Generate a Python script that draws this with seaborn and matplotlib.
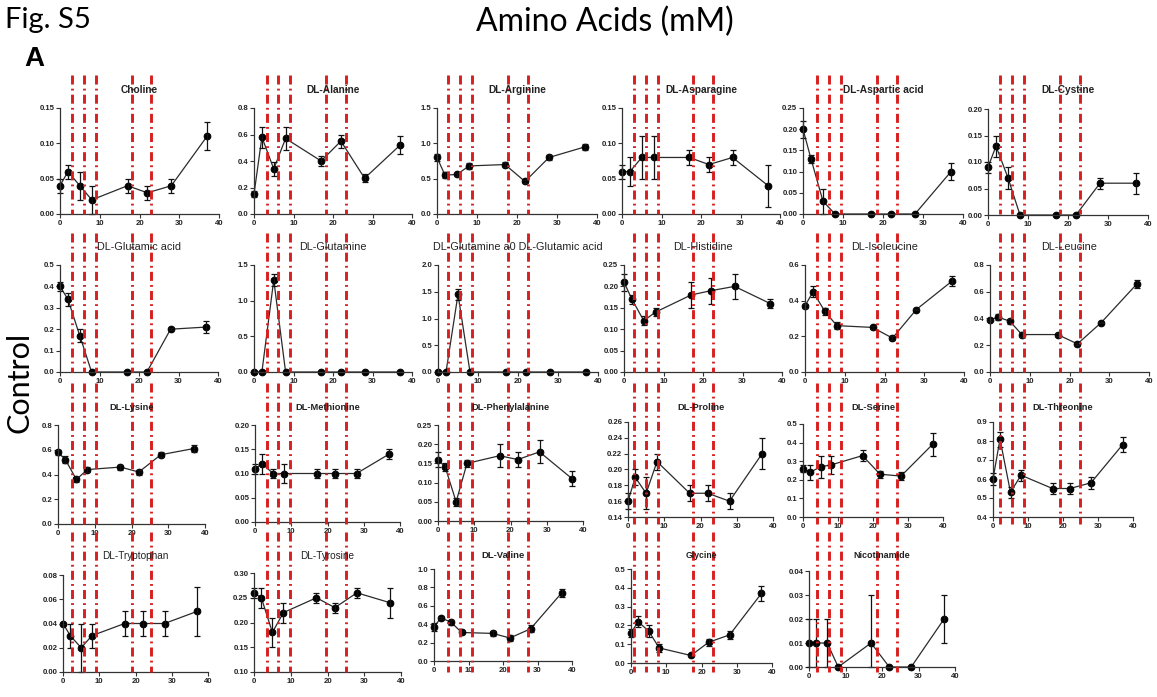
import matplotlib
matplotlib.use("Agg")
import matplotlib.pyplot as plt
import seaborn as sns
import pandas as pd
from matplotlib.ticker import FormatStrFormatter, MultipleLocator
from matplotlib.transforms import blended_transform_factory

# ---------------- data ----------------
time_h = [0, 2, 5, 8, 17, 22, 28, 37]

choline_mean = [0.04, 0.06, 0.04, 0.02, 0.04, 0.03, 0.04, 0.11]
choline_err = [0.01, 0.01, 0.02, 0.02, 0.01, 0.01, 0.01, 0.02]
alanine_mean = [0.15, 0.58, 0.34, 0.57, 0.40, 0.55, 0.27, 0.52]
alanine_err = [0.02, 0.08, 0.05, 0.09, 0.04, 0.05, 0.03, 0.07]
arginine_mean = [0.80, 0.55, 0.56, 0.68, 0.70, 0.46, 0.80, 0.95]
arginine_err = [0.05, 0.04, 0.02, 0.04, 0.03, 0.02, 0.03, 0.04]
asparagine_mean = [0.06, 0.06, 0.08, 0.08, 0.08, 0.07, 0.08, 0.04]
asparagine_err = [0.01, 0.02, 0.03, 0.03, 0.01, 0.01, 0.01, 0.03]
aspartic_mean = [0.20, 0.13, 0.03, 0.0, 0.0, 0.0, 0.0, 0.10]
aspartic_err = [0.02, 0.01, 0.03, 0.0, 0.0, 0.0, 0.0, 0.02]
cystine_mean = [0.09, 0.13, 0.07, 0.0, 0.0, 0.0, 0.06, 0.06]
cystine_err = [0.01, 0.02, 0.02, 0.0, 0.0, 0.0, 0.01, 0.02]

glutamic_mean = [0.40, 0.34, 0.17, 0.0, 0.0, 0.0, 0.20, 0.21]
glutamic_err = [0.02, 0.03, 0.03, 0.0, 0.0, 0.0, 0.005, 0.03]
glutamine_mean = [0.0, 0.0, 1.29, 0.0, 0.0, 0.0, 0.0, 0.0]
glutamine_err = [0.0, 0.0, 0.09, 0.0, 0.0, 0.0, 0.0, 0.0]
glngla_mean = [0.0, 0.0, 1.45, 0.0, 0.0, 0.0, 0.0, 0.0]
glngla_err = [0.0, 0.0, 0.10, 0.0, 0.0, 0.0, 0.0, 0.0]
histidine_mean = [0.21, 0.17, 0.12, 0.14, 0.18, 0.19, 0.20, 0.16]
histidine_err = [0.02, 0.01, 0.01, 0.01, 0.03, 0.03, 0.03, 0.01]
isoleucine_mean = [0.37, 0.45, 0.34, 0.26, 0.25, 0.19, 0.35, 0.51]
isoleucine_err = [0.01, 0.03, 0.02, 0.02, 0.01, 0.01, 0.005, 0.03]
leucine_mean = [0.39, 0.41, 0.38, 0.28, 0.28, 0.21, 0.37, 0.66]
leucine_err = [0.01, 0.02, 0.02, 0.02, 0.01, 0.01, 0.005, 0.03]

lysine_mean = [0.58, 0.52, 0.36, 0.44, 0.46, 0.42, 0.56, 0.61]
lysine_err = [0.02, 0.03, 0.02, 0.02, 0.02, 0.02, 0.02, 0.03]
methionine_mean = [0.11, 0.12, 0.10, 0.10, 0.10, 0.10, 0.10, 0.14]
methionine_err = [0.01, 0.02, 0.01, 0.02, 0.01, 0.01, 0.01, 0.01]
phenylalanine_mean = [0.16, 0.14, 0.05, 0.15, 0.17, 0.16, 0.18, 0.11]
phenylalanine_err = [0.02, 0.01, 0.01, 0.01, 0.03, 0.02, 0.03, 0.02]
proline_mean = [0.16, 0.19, 0.17, 0.21, 0.17, 0.17, 0.16, 0.22]
proline_err = [0.01, 0.01, 0.02, 0.01, 0.01, 0.01, 0.01, 0.02]
serine_mean = [0.26, 0.24, 0.27, 0.28, 0.33, 0.23, 0.22, 0.39]
serine_err = [0.02, 0.04, 0.06, 0.05, 0.03, 0.02, 0.02, 0.06]
threonine_mean = [0.60, 0.81, 0.53, 0.62, 0.55, 0.55, 0.58, 0.78]
threonine_err = [0.03, 0.04, 0.03, 0.03, 0.03, 0.03, 0.03, 0.04]

tryptophan_mean = [0.04, 0.03, 0.02, 0.03, 0.04, 0.04, 0.04, 0.05]
tryptophan_err = [0.0, 0.01, 0.02, 0.01, 0.01, 0.01, 0.01, 0.02]
tyrosine_mean = [0.26, 0.25, 0.18, 0.22, 0.25, 0.23, 0.26, 0.24]
tyrosine_err = [0.01, 0.02, 0.03, 0.02, 0.01, 0.01, 0.01, 0.03]
valine_mean = [0.37, 0.47, 0.42, 0.31, 0.30, 0.25, 0.35, 0.74]
valine_err = [0.04, 0.01, 0.03, 0.02, 0.03, 0.03, 0.04, 0.04]
glycine_mean = [0.16, 0.22, 0.17, 0.08, 0.04, 0.11, 0.15, 0.37]
glycine_err = [0.02, 0.03, 0.03, 0.02, 0.005, 0.02, 0.02, 0.04]
nicotinamide_mean = [0.01, 0.01, 0.01, 0.0, 0.01, 0.0, 0.0, 0.02]
nicotinamide_err = [0.01, 0.01, 0.01, 0.0, 0.02, 0.0, 0.0, 0.01]

event_x = [3, 6, 9, 18, 23]

# ---------------- style ----------------
sns.set_style("ticks")
plt.rcParams["font.family"] = ["Liberation Sans", "DejaVu Sans"]
plt.rcParams["lines.scale_dashes"] = False

W, H = 1157, 697
fig = plt.figure(figsize=(W / 100, H / 100), dpi=100)


def box(l, t, r, b):
    return [l / W, 1 - b / H, (r - l) / W, (b - t) / H]


# (title, mean, err, ymin, ymax, step, decimals, (l,t,r,b), row, col, title_size, title_weight)
panels = [
    ("Choline", choline_mean, choline_err, 0, 0.15, 0.05, 2, (60, 108, 219, 214), 0, 0, 7.3, "bold"),
    ("DL-Alanine", alanine_mean, alanine_err, 0, 0.8, 0.2, 1, (254, 108, 412, 214), 0, 1, 7.3, "bold"),
    ("DL-Arginine", arginine_mean, arginine_err, 0, 1.5, 0.5, 1, (437, 108, 597, 214), 0, 2, 7.3, "bold"),
    ("DL-Asparagine", asparagine_mean, asparagine_err, 0, 0.15, 0.05, 2, (622, 108, 780, 214), 0, 3, 7.3, "bold"),
    ("DL-Aspartic acid", aspartic_mean, aspartic_err, 0, 0.25, 0.05, 2, (803, 108, 963, 214), 0, 4, 7.3, "bold"),
    ("DL-Cystine", cystine_mean, cystine_err, 0, 0.20, 0.05, 2, (988, 109, 1148, 215), 0, 5, 7.3, "bold"),

    ("DL-Glutamic acid", glutamic_mean, glutamic_err, 0, 0.5, 0.1, 1, (60, 265, 218, 372), 1, 0, 7.8, "normal"),
    ("DL-Glutamine", glutamine_mean, glutamine_err, 0, 1.5, 0.5, 1, (254, 265, 412, 372), 1, 1, 7.8, "normal"),
    ("DL-Glutamine a0 DL-Glutamic acid", glngla_mean, glngla_err, 0, 2.0, 0.5, 1, (438, 265, 598, 372), 1, 2, 7.8, "normal"),
    ("DL-Histidine", histidine_mean, histidine_err, 0, 0.25, 0.05, 2, (624, 265, 782, 372), 1, 3, 7.8, "normal"),
    ("DL-Isoleucine", isoleucine_mean, isoleucine_err, 0, 0.6, 0.2, 1, (805, 265, 964, 372), 1, 4, 7.8, "normal"),
    ("DL-Leucine", leucine_mean, leucine_err, 0, 0.8, 0.2, 1, (990, 265, 1149, 372), 1, 5, 7.8, "normal"),

    ("DL-Lysine", lysine_mean, lysine_err, 0, 0.8, 0.2, 1, (58, 425, 205, 524), 2, 0, 6.7, "bold"),
    ("DL-Methionine", methionine_mean, methionine_err, 0, 0.20, 0.05, 2, (255, 425, 400, 522), 2, 1, 6.7, "bold"),
    ("DL-Phenylalanine", phenylalanine_mean, phenylalanine_err, 0, 0.25, 0.05, 2, (438, 425, 583, 521), 2, 2, 6.7, "bold"),
    ("DL-Proline", proline_mean, proline_err, 0.14, 0.26, 0.02, 2, (628, 422, 773, 517), 2, 3, 6.7, "bold"),
    ("DL-Serine", serine_mean, serine_err, 0, 0.5, 0.1, 1, (803, 424, 943, 517), 2, 4, 6.7, "bold"),
    ("DL-Threonine", threonine_mean, threonine_err, 0.4, 0.9, 0.1, 1, (993, 422, 1133, 517), 2, 5, 6.7, "bold"),

    ("DL-Tryptophan", tryptophan_mean, tryptophan_err, 0, 0.08, 0.02, 2, (63, 575, 208, 672), 3, 0, 7.2, "normal"),
    ("DL-Tyrosine", tyrosine_mean, tyrosine_err, 0.10, 0.30, 0.05, 2, (254, 573, 401, 672), 3, 1, 7.2, "normal"),
    ("DL-Valine", valine_mean, valine_err, 0, 1.0, 0.2, 1, (434, 569, 572, 661), 3, 2, 6.8, "bold"),
    ("Glycine", glycine_mean, glycine_err, 0, 0.5, 0.1, 1, (631, 569, 772, 663), 3, 3, 6.2, "bold"),
    ("Nicotinamide", nicotinamide_mean, nicotinamide_err, 0, 0.04, 0.01, 2, (809, 571, 955, 667), 3, 4, 6.5, "bold"),
]

row_title_y = [90, 247, 408, 556]
row_red_span = [(75, 214), (233, 372), (383, 524), (532, 672)]
col_shift = [0.0, 0.2, -0.25, 0.0, 0.4, -0.1]
red_color = "#d81f1f"

axes = {}
for p in panels:
    title, mean, err, y0, y1, step, dec, bx, row, col, tsize, tweight = p
    ax = fig.add_axes(box(*bx))
    axes[(row, col)] = ax
    df = pd.DataFrame({"time": time_h, "value": mean})
    sns.lineplot(data=df, x="time", y="value", ax=ax, color="#2b2b2b", linewidth=0.9,
                 marker="o", markersize=4.8, markerfacecolor="black",
                 markeredgecolor="black", errorbar=None)
    # error bars never reach below the axis floor
    lower = [min(e, m - y0) for m, e in zip(mean, err)]
    ax.errorbar(time_h, mean, yerr=[lower, err], fmt="none", ecolor="#111111",
                elinewidth=0.9, capsize=2.2, capthick=0.9)
    for art in ax.get_children():
        try:
            art.set_clip_on(False)
        except Exception:
            pass
    ax.set_xlim(0, 40)
    ax.set_ylim(y0, y1)
    ax.xaxis.set_major_locator(MultipleLocator(10))
    ax.yaxis.set_major_locator(MultipleLocator(step))
    ax.yaxis.set_major_formatter(FormatStrFormatter("%%.%df" % dec))
    ax.set_xlabel("")
    ax.set_ylabel("")
    for s in ["top", "right"]:
        ax.spines[s].set_visible(False)
    for s in ["left", "bottom"]:
        ax.spines[s].set_color("#333333")
        ax.spines[s].set_linewidth(0.9)
    ax.tick_params(axis="both", direction="out", length=2.6, width=0.8,
                   color="#333333", labelsize=5.6, pad=1.5, labelcolor="#222222")
    for lab in ax.get_xticklabels() + ax.get_yticklabels():
        lab.set_fontweight("bold")
    ax.patch.set_visible(False)
    cx = (bx[0] + bx[2]) / 2 / W
    fig.text(cx, 1 - row_title_y[row] / H, title, ha="center", va="center",
             fontsize=tsize, fontweight=tweight, color="#222222")

# red dash-dot event lines, aligned per column with the first-row panel
for p in panels:
    row, col = p[8], p[9]
    ax = axes[(row, col)]
    ref = axes[(0, col)]
    trans = blended_transform_factory(ref.transData, fig.transFigure)
    ytop, ybot = row_red_span[row]
    for xv in event_x:
        xs = xv + col_shift[col]
        ax.plot([xs, xs], [1 - ytop / H, 1 - ybot / H], transform=trans,
                color=red_color, linewidth=2.1, linestyle=(0, (6.5, 3.0, 1.3, 3.0)),
                clip_on=False, zorder=5, solid_capstyle="butt", dash_capstyle="butt")

# headers
fig.text(5 / W, 1 - 20 / H, "Fig. S5", ha="left", va="center", fontsize=21,
         family=["Lato", "DejaVu Sans"], color="black")
fig.text(605 / W, 1 - 22 / H, "Amino Acids (mM)", ha="center", va="center", fontsize=23,
         family=["Lato", "DejaVu Sans"], color="black")
fig.text(24 / W, 1 - 59 / H, "A", ha="left", va="center", fontsize=20, fontweight="bold",
         family=["Liberation Sans", "DejaVu Sans"], color="black")
fig.text(20 / W, 1 - 382 / H, "Control", ha="center", va="center", fontsize=22,
         rotation=90, family=["Lato", "DejaVu Sans"], color="black")

fig.savefig("out.png", dpi=100, facecolor="white")
